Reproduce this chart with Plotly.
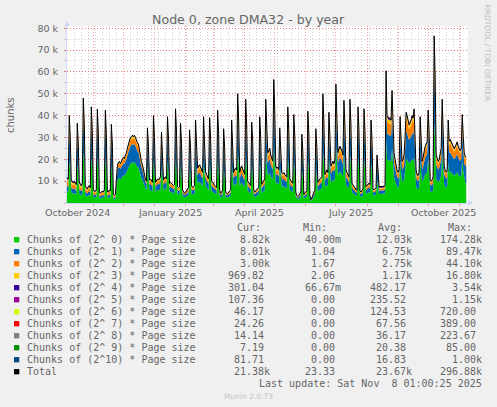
import numpy as np
import pandas as pd
import plotly.graph_objects as go

# one value per day, in thousands of chunks, starting 2024-10-05
days = pd.date_range("2024-10-05", periods=400, freq="D")

order_0 = [
    5.4, 5.2, 5.0, 19.2, 14.4, 4.7, 4.5, 4.3, 4.5, 4.1,
    3.8, 17.5, 13.1, 4.3, 3.8, 3.6, 4.1, 23.0, 17.3, 3.6,
    3.2, 2.9, 3.4, 3.6, 3.2, 21.1, 15.8, 2.7, 2.5, 2.5,
    2.7, 20.6, 15.5, 2.3, 2.0, 2.3, 2.5, 2.3, 2.7, 20.4,
    15.3, 2.5, 2.3, 2.7, 2.5, 17.3, 13.0, 1.8, 1.6, 1.8,
    7.2, 10.2, 11.1, 11.4, 10.8, 11.7, 12.0, 12.6, 12.3, 13.2,
    13.8, 15.0, 16.2, 17.4, 18.0, 18.3, 18.6, 18.3, 18.6, 18.0,
    16.8, 16.5, 16.2, 14.4, 12.6, 11.4, 10.5, 9.0, 7.8, 6.6,
    6.0, 16.6, 12.5, 5.8, 6.0, 5.5, 5.2, 19.2, 14.4, 5.2,
    5.5, 6.0, 5.8, 6.0, 6.6, 15.6, 11.7, 5.8, 6.3, 6.6,
    6.0, 19.0, 14.3, 5.0, 5.2, 5.0, 4.7, 4.4, 4.7, 20.6,
    15.5, 4.1, 3.9, 4.1, 17.5, 13.1, 3.3, 2.8, 2.5, 2.8,
    3.0, 3.3, 3.9, 16.1, 12.1, 4.4, 3.9, 4.1, 4.4, 18.2,
    13.7, 8.8, 9.4, 9.6, 9.1, 8.3, 7.7, 19.0, 14.3, 8.0,
    7.2, 6.6, 6.0, 18.7, 14.0, 5.5, 5.2, 5.0, 4.4, 4.1,
    3.9, 20.4, 15.3, 3.3, 2.5, 2.8, 3.3, 16.3, 12.2, 2.8,
    2.5, 2.5, 2.8, 3.0, 3.3, 18.2, 13.7, 7.7, 8.5, 8.8,
    8.3, 24.0, 18.0, 7.7, 8.8, 9.4, 8.5, 7.7, 7.2, 22.8,
    17.1, 5.5, 5.0, 4.7, 4.4, 17.8, 13.4, 3.3, 2.8, 3.0,
    3.3, 3.6, 3.9, 19.0, 14.3, 4.7, 5.2, 5.5, 6.0, 22.8,
    17.1, 12.7, 13.2, 13.8, 12.1, 11.0, 10.5, 27.1, 20.3, 9.4,
    8.8, 9.1, 8.3, 16.6, 12.5, 7.7, 7.4, 7.7, 7.2, 6.9,
    6.6, 21.1, 15.8, 6.0, 5.5, 5.2, 5.0, 19.4, 14.6, 2.8,
    1.9, 1.6, 1.9, 2.2, 2.8, 15.1, 11.3, 2.2, 2.5, 2.8,
    3.0, 20.2, 15.2, 1.9, 0.8, 1.4, 2.2, 2.8, 3.3, 16.3,
    12.2, 5.2, 5.8, 6.0, 6.3, 6.6, 24.0, 18.0, 7.2, 7.7,
    8.3, 7.7, 19.9, 14.9, 9.4, 9.9, 10.5, 9.9, 11.0, 26.2,
    19.7, 12.7, 13.8, 14.3, 13.8, 13.2, 12.1, 22.6, 17.0, 8.3,
    7.7, 7.2, 6.6, 22.8, 17.1, 5.0, 4.4, 4.1, 3.9, 3.3,
    3.3, 21.1, 15.8, 3.0, 2.8, 3.3, 3.6, 20.6, 15.5, 4.1,
    4.4, 4.7, 5.0, 4.7, 18.2, 13.7, 3.6, 3.3, 3.6, 3.9,
    10.6, 8.0, 4.2, 4.1, 4.2, 4.3, 4.2, 4.3, 4.4, 29.0,
    20.0, 19.5, 19.3, 19.5, 19.0, 24.7, 18.5, 11.5, 10.0, 8.5,
    7.5, 7.0, 7.5, 19.0, 14.3, 9.5, 10.0, 11.0, 15.0, 19.9,
    20.0, 19.0, 18.0, 18.5, 19.0, 20.0, 19.5, 20.6, 15.5, 7.5,
    6.5, 6.3, 7.0, 19.0, 14.3, 9.5, 10.5, 12.0, 13.0, 13.5,
    14.0, 20.4, 15.3, 5.5, 5.0, 5.3, 6.0, 36.7, 27.5, 11.0,
    10.0, 9.5, 10.0, 11.0, 12.5, 22.8, 17.1, 8.5, 7.5, 7.0,
    7.5, 18.2, 13.7, 14.5, 14.0, 13.5, 13.0, 12.5, 13.0, 13.5,
    14.0, 13.0, 12.5, 12.0, 12.5, 19.4, 14.6, 11.5, 9.5, 8.8,
]

order_1 = [
    2.6, 2.5, 2.4, 12.8, 9.6, 2.3, 2.2, 2.1, 2.2, 2.0,
    1.9, 11.7, 8.8, 2.1, 1.9, 1.8, 2.0, 15.4, 11.6, 1.8,
    1.5, 1.4, 1.7, 1.8, 1.5, 14.1, 10.6, 1.3, 1.2, 1.2,
    1.3, 13.8, 10.4, 1.1, 1.0, 1.1, 1.2, 1.1, 1.3, 13.6,
    10.2, 1.2, 1.1, 1.3, 1.2, 11.5, 8.6, 0.9, 0.8, 0.9,
    3.2, 4.6, 5.0, 5.1, 4.9, 5.3, 5.4, 5.7, 5.5, 5.9,
    6.2, 6.8, 7.3, 7.8, 8.1, 8.2, 8.4, 8.2, 8.4, 8.1,
    7.6, 7.4, 7.3, 6.5, 5.7, 5.1, 4.7, 4.1, 3.5, 3.0,
    2.7, 11.0, 8.3, 2.6, 2.8, 2.5, 2.4, 12.8, 9.6, 2.4,
    2.5, 2.8, 2.6, 2.8, 3.0, 10.4, 7.8, 2.6, 2.9, 3.0,
    2.8, 12.6, 9.5, 2.2, 2.4, 2.2, 2.1, 2.0, 2.1, 13.8,
    10.4, 1.9, 1.8, 1.9, 11.7, 8.8, 1.5, 1.2, 1.1, 1.2,
    1.4, 1.5, 1.8, 10.7, 8.0, 2.0, 1.8, 1.9, 2.0, 12.2,
    9.2, 4.0, 4.2, 4.4, 4.1, 3.8, 3.5, 12.6, 9.5, 3.6,
    3.2, 3.0, 2.8, 12.5, 9.4, 2.5, 2.4, 2.2, 2.0, 1.9,
    1.8, 13.6, 10.2, 1.5, 1.1, 1.2, 1.5, 10.9, 8.2, 1.2,
    1.1, 1.1, 1.2, 1.4, 1.5, 12.2, 9.2, 3.5, 3.9, 4.0,
    3.8, 16.0, 12.0, 3.5, 4.0, 4.2, 3.9, 3.5, 3.2, 15.2,
    11.4, 2.5, 2.2, 2.1, 2.0, 11.8, 8.9, 1.5, 1.2, 1.4,
    1.5, 1.6, 1.8, 12.6, 9.5, 2.1, 2.4, 2.5, 2.8, 15.2,
    11.4, 5.7, 6.0, 6.2, 5.5, 5.0, 4.8, 18.1, 13.6, 4.2,
    4.0, 4.1, 3.8, 11.0, 8.3, 3.5, 3.4, 3.5, 3.2, 3.1,
    3.0, 14.1, 10.6, 2.8, 2.5, 2.4, 2.2, 13.0, 9.8, 1.2,
    0.9, 0.8, 0.9, 1.0, 1.2, 10.1, 7.6, 1.0, 1.1, 1.2,
    1.4, 13.4, 10.1, 0.9, 0.4, 0.6, 1.0, 1.2, 1.5, 10.9,
    8.2, 2.4, 2.6, 2.8, 2.9, 3.0, 16.0, 12.0, 3.2, 3.5,
    3.8, 3.5, 13.3, 10.0, 4.2, 4.5, 4.8, 4.5, 5.0, 17.4,
    13.1, 5.7, 6.2, 6.5, 6.2, 6.0, 5.5, 15.0, 11.3, 3.8,
    3.5, 3.2, 3.0, 15.2, 11.4, 2.2, 2.0, 1.9, 1.8, 1.5,
    1.5, 14.1, 10.6, 1.4, 1.2, 1.5, 1.6, 13.8, 10.4, 1.9,
    2.0, 2.1, 2.2, 2.1, 12.2, 9.2, 1.6, 1.5, 1.6, 1.8,
    7.0, 5.3, 1.5, 1.6, 1.5, 1.5, 1.6, 1.5, 2.0, 19.4,
    12.0, 11.7, 11.6, 11.7, 11.4, 16.5, 12.4, 6.9, 6.0, 5.1,
    4.5, 4.2, 4.5, 12.6, 9.5, 5.7, 6.0, 6.6, 9.0, 13.3,
    12.0, 11.4, 10.8, 11.1, 11.4, 12.0, 11.7, 13.8, 10.4, 4.5,
    3.9, 3.8, 4.2, 12.6, 9.5, 5.7, 6.3, 7.2, 7.8, 8.1,
    8.4, 13.6, 10.2, 3.3, 3.0, 3.2, 3.6, 24.5, 18.4, 6.6,
    6.0, 5.7, 6.0, 6.6, 7.5, 15.2, 11.4, 5.1, 4.5, 4.2,
    4.5, 12.2, 9.2, 8.7, 8.4, 8.1, 7.8, 7.5, 7.8, 8.1,
    8.4, 7.8, 7.5, 7.2, 7.5, 13.0, 9.8, 6.9, 7.5, 8.0,
]

order_2 = [
    2.2, 2.1, 2.0, 4.8, 3.6, 1.9, 1.8, 1.7, 1.8, 1.6,
    1.5, 4.4, 3.3, 1.7, 1.5, 1.4, 1.6, 5.8, 4.4, 1.4,
    1.3, 1.2, 1.4, 1.4, 1.3, 5.3, 4.0, 1.1, 1.0, 1.0,
    1.1, 5.2, 3.9, 0.9, 0.8, 0.9, 1.0, 0.9, 1.1, 5.1,
    3.8, 1.0, 0.9, 1.1, 1.0, 4.3, 3.2, 0.7, 0.6, 0.7,
    1.1, 1.5, 1.7, 1.7, 1.6, 1.8, 1.8, 1.9, 1.8, 2.0,
    2.1, 2.3, 2.4, 2.6, 2.7, 2.7, 2.8, 2.7, 2.8, 2.7,
    2.5, 2.5, 2.4, 2.2, 1.9, 1.7, 1.6, 1.4, 1.2, 1.0,
    0.9, 4.1, 3.1, 1.3, 1.3, 1.2, 1.1, 4.8, 3.6, 1.1,
    1.2, 1.3, 1.3, 1.3, 1.4, 3.9, 2.9, 1.3, 1.4, 1.4,
    1.3, 4.7, 3.5, 1.1, 1.1, 1.1, 1.0, 1.0, 1.0, 5.2,
    3.9, 0.9, 0.8, 0.9, 4.4, 3.3, 0.7, 0.6, 0.5, 0.6,
    0.7, 0.7, 0.8, 4.0, 3.0, 1.0, 0.8, 0.9, 1.0, 4.6,
    3.5, 1.9, 2.0, 2.1, 2.0, 1.8, 1.7, 4.7, 3.5, 1.7,
    1.6, 1.4, 1.3, 4.7, 3.5, 1.2, 1.1, 1.1, 1.0, 0.9,
    0.8, 5.1, 3.8, 0.7, 0.5, 0.6, 0.7, 4.1, 3.1, 0.6,
    0.5, 0.5, 0.6, 0.7, 0.7, 4.6, 3.5, 1.7, 1.9, 1.9,
    1.8, 6.0, 4.5, 1.7, 1.9, 2.0, 1.9, 1.7, 1.6, 5.7,
    4.3, 1.2, 1.1, 1.0, 1.0, 4.4, 3.3, 0.7, 0.6, 0.7,
    0.7, 0.8, 0.8, 4.7, 3.5, 1.0, 1.1, 1.2, 1.3, 5.7,
    4.3, 2.8, 2.9, 3.0, 2.6, 2.4, 2.3, 6.8, 5.1, 2.0,
    1.9, 2.0, 1.8, 4.1, 3.1, 1.7, 1.6, 1.7, 1.6, 1.5,
    1.4, 5.3, 4.0, 1.3, 1.2, 1.1, 1.1, 4.9, 3.7, 0.6,
    0.4, 0.4, 0.4, 0.5, 0.6, 3.8, 2.9, 0.5, 0.5, 0.6,
    0.7, 5.0, 3.8, 0.4, 0.2, 0.3, 0.5, 0.6, 0.7, 4.1,
    3.1, 1.1, 1.3, 1.3, 1.4, 1.4, 6.0, 4.5, 1.6, 1.7,
    1.8, 1.7, 5.0, 3.8, 2.0, 2.2, 2.3, 2.2, 2.4, 6.5,
    4.9, 2.8, 3.0, 3.1, 3.0, 2.9, 2.6, 5.6, 4.2, 1.8,
    1.7, 1.6, 1.4, 5.7, 4.3, 1.1, 1.0, 0.9, 0.8, 0.7,
    0.7, 5.3, 4.0, 0.7, 0.6, 0.7, 0.8, 5.2, 3.9, 0.9,
    1.0, 1.0, 1.1, 1.0, 4.6, 3.5, 0.8, 0.7, 0.8, 0.8,
    2.6, 2.0, 0.9, 0.9, 0.9, 0.9, 0.9, 0.9, 1.0, 7.3,
    5.6, 5.5, 5.4, 5.5, 5.3, 6.2, 4.7, 3.2, 2.8, 2.4,
    2.1, 2.0, 2.1, 4.7, 3.5, 2.7, 2.8, 3.1, 4.2, 5.0,
    5.6, 5.3, 5.0, 5.2, 5.3, 5.6, 5.5, 5.2, 3.9, 2.1,
    1.8, 1.8, 2.0, 4.7, 3.5, 2.7, 2.9, 3.4, 3.6, 3.8,
    3.9, 5.1, 3.8, 1.5, 1.4, 1.5, 1.7, 9.2, 6.9, 3.1,
    2.8, 2.7, 2.8, 3.1, 3.5, 5.7, 4.3, 2.4, 2.1, 2.0,
    2.1, 4.6, 3.5, 4.1, 3.9, 3.8, 3.6, 3.5, 3.6, 3.8,
    3.9, 3.6, 3.5, 3.4, 3.5, 4.9, 3.7, 3.2, 3.0, 3.0,
]

order_3 = [
    1.1, 1.0, 1.0, 2.0, 1.5, 0.9, 0.9, 0.9, 0.9, 0.8,
    0.8, 1.8, 1.4, 0.9, 0.8, 0.7, 0.8, 2.4, 1.8, 0.7,
    0.6, 0.6, 0.7, 0.7, 0.6, 2.2, 1.7, 0.5, 0.5, 0.5,
    0.5, 2.2, 1.7, 0.4, 0.4, 0.4, 0.5, 0.4, 0.5, 2.1,
    1.6, 0.5, 0.4, 0.5, 0.5, 1.8, 1.4, 0.4, 0.3, 0.4,
    0.4, 0.5, 0.6, 0.6, 0.5, 0.6, 0.6, 0.6, 0.6, 0.7,
    0.7, 0.8, 0.8, 0.9, 0.9, 0.9, 0.9, 0.9, 0.9, 0.9,
    0.8, 0.8, 0.8, 0.7, 0.6, 0.6, 0.5, 0.5, 0.4, 0.3,
    0.3, 1.7, 1.3, 0.5, 0.6, 0.5, 0.5, 2.0, 1.5, 0.5,
    0.5, 0.6, 0.5, 0.6, 0.6, 1.6, 1.2, 0.5, 0.6, 0.6,
    0.6, 2.0, 1.5, 0.5, 0.5, 0.5, 0.4, 0.4, 0.4, 2.2,
    1.7, 0.4, 0.4, 0.4, 1.8, 1.4, 0.3, 0.3, 0.2, 0.3,
    0.3, 0.3, 0.4, 1.7, 1.3, 0.4, 0.4, 0.4, 0.4, 1.9,
    1.4, 0.8, 0.9, 0.9, 0.8, 0.8, 0.7, 2.0, 1.5, 0.7,
    0.7, 0.6, 0.6, 2.0, 1.5, 0.5, 0.5, 0.5, 0.4, 0.4,
    0.4, 2.1, 1.6, 0.3, 0.2, 0.3, 0.3, 1.7, 1.3, 0.3,
    0.2, 0.2, 0.3, 0.3, 0.3, 1.9, 1.4, 0.7, 0.8, 0.8,
    0.8, 2.5, 1.9, 0.7, 0.8, 0.9, 0.8, 0.7, 0.7, 2.4,
    1.8, 0.5, 0.5, 0.4, 0.4, 1.9, 1.4, 0.3, 0.3, 0.3,
    0.3, 0.3, 0.4, 2.0, 1.5, 0.4, 0.5, 0.5, 0.6, 2.4,
    1.8, 1.2, 1.2, 1.2, 1.1, 1.0, 1.0, 2.8, 2.1, 0.9,
    0.8, 0.8, 0.8, 1.7, 1.3, 0.7, 0.7, 0.7, 0.7, 0.6,
    0.6, 2.2, 1.7, 0.6, 0.5, 0.5, 0.5, 2.0, 1.5, 0.3,
    0.2, 0.1, 0.2, 0.2, 0.3, 1.6, 1.2, 0.2, 0.2, 0.3,
    0.3, 2.1, 1.6, 0.2, 0.1, 0.1, 0.2, 0.3, 0.3, 1.7,
    1.3, 0.5, 0.5, 0.6, 0.6, 0.6, 2.5, 1.9, 0.7, 0.7,
    0.8, 0.7, 2.1, 1.6, 0.9, 0.9, 1.0, 0.9, 1.0, 2.7,
    2.0, 1.2, 1.2, 1.3, 1.2, 1.2, 1.1, 2.4, 1.8, 0.8,
    0.7, 0.7, 0.6, 2.4, 1.8, 0.5, 0.4, 0.4, 0.4, 0.3,
    0.3, 2.2, 1.7, 0.3, 0.3, 0.3, 0.3, 2.2, 1.7, 0.4,
    0.4, 0.4, 0.5, 0.4, 1.9, 1.4, 0.3, 0.3, 0.3, 0.4,
    1.1, 0.8, 0.4, 0.4, 0.4, 0.4, 0.4, 0.4, 0.4, 3.0,
    1.6, 1.6, 1.5, 1.6, 1.5, 2.6, 2.0, 0.9, 0.8, 0.7,
    0.6, 0.6, 0.6, 2.0, 1.5, 0.8, 0.8, 0.9, 1.2, 2.1,
    1.6, 1.5, 1.4, 1.5, 1.5, 1.6, 1.6, 2.2, 1.7, 0.6,
    0.5, 0.5, 0.6, 2.0, 1.5, 0.8, 0.8, 1.0, 1.0, 1.1,
    1.1, 2.1, 1.6, 0.4, 0.4, 0.4, 0.5, 3.8, 2.9, 0.9,
    0.8, 0.8, 0.8, 0.9, 1.0, 2.4, 1.8, 0.7, 0.6, 0.6,
    0.6, 1.9, 1.4, 1.2, 1.1, 1.1, 1.0, 1.0, 1.0, 1.1,
    1.1, 1.0, 1.0, 1.0, 1.0, 2.0, 1.5, 0.9, 0.9, 1.0,
]

order_4 = [
    0.7, 0.7, 0.6, 1.2, 0.9, 0.6, 0.6, 0.6, 0.6, 0.5,
    0.5, 1.1, 0.8, 0.6, 0.5, 0.5, 0.5, 1.4, 1.1, 0.5,
    0.4, 0.4, 0.3, 0.5, 0.4, 1.3, 1.0, 0.4, 0.3, 0.3,
    0.4, 1.2, 0.9, 0.3, 0.3, 0.3, 0.3, 0.3, 0.4, 1.3,
    1.0, 0.3, 0.3, 0.4, 0.3, 1.1, 0.8, 0.2, 0.2, 0.2,
    0.1, 0.2, 0.2, 0.2, 0.2, 0.2, 0.2, 0.2, 0.2, 0.2,
    0.2, 0.3, 0.3, 0.3, 0.3, 0.3, 0.3, 0.3, 0.3, 0.3,
    0.3, 0.3, 0.3, 0.2, 0.2, 0.2, 0.2, 0.1, 0.1, 0.1,
    0.1, 1.0, 0.8, 0.3, 0.3, 0.3, 0.3, 1.2, 0.9, 0.3,
    0.3, 0.3, 0.3, 0.3, 0.4, 1.0, 0.8, 0.3, 0.3, 0.4,
    0.3, 1.2, 0.9, 0.3, 0.3, 0.3, 0.3, 0.2, 0.3, 1.3,
    1.0, 0.2, 0.2, 0.2, 1.1, 0.8, 0.2, 0.1, 0.1, 0.1,
    0.2, 0.2, 0.2, 1.0, 0.8, 0.2, 0.2, 0.2, 0.2, 1.1,
    0.8, 0.5, 0.5, 0.5, 0.5, 0.5, 0.4, 1.2, 0.9, 0.4,
    0.4, 0.4, 0.3, 1.2, 0.9, 0.3, 0.3, 0.3, 0.2, 0.2,
    0.2, 1.3, 1.0, 0.2, 0.1, 0.1, 0.2, 1.0, 0.8, 0.1,
    0.1, 0.1, 0.1, 0.2, 0.2, 1.1, 0.8, 0.4, 0.5, 0.5,
    0.5, 1.5, 1.1, 0.4, 0.5, 0.5, 0.5, 0.4, 0.4, 1.4,
    1.1, 0.3, 0.3, 0.3, 0.2, 1.1, 0.8, 0.2, 0.1, 0.2,
    0.2, 0.2, 0.2, 1.2, 0.9, 0.3, 0.3, 0.3, 0.3, 1.4,
    1.1, 0.7, 0.7, 0.8, 0.7, 0.6, 0.6, 1.7, 1.3, 0.5,
    0.5, 0.5, 0.5, 1.0, 0.8, 0.4, 0.4, 0.4, 0.4, 0.4,
    0.4, 1.3, 1.0, 0.3, 0.3, 0.3, 0.3, 1.2, 0.9, 0.1,
    0.1, 0.1, 0.1, 0.1, 0.1, 0.9, 0.7, 0.1, 0.1, 0.1,
    0.2, 1.3, 1.0, 0.1, 0.0, 0.1, 0.1, 0.1, 0.2, 1.0,
    0.8, 0.3, 0.3, 0.3, 0.3, 0.4, 1.5, 1.1, 0.4, 0.4,
    0.5, 0.4, 1.2, 0.9, 0.5, 0.5, 0.6, 0.5, 0.6, 1.6,
    1.2, 0.7, 0.8, 0.8, 0.8, 0.7, 0.7, 1.4, 1.1, 0.5,
    0.4, 0.4, 0.4, 1.4, 1.1, 0.3, 0.2, 0.2, 0.2, 0.2,
    0.2, 1.3, 1.0, 0.2, 0.1, 0.2, 0.2, 1.3, 1.0, 0.2,
    0.2, 0.3, 0.3, 0.3, 1.1, 0.8, 0.2, 0.2, 0.2, 0.2,
    0.7, 0.5, 0.5, 0.5, 0.5, 0.5, 0.5, 0.5, 0.2, 1.8,
    0.8, 0.8, 0.8, 0.8, 0.8, 1.5, 1.1, 0.5, 0.4, 0.3,
    0.3, 0.3, 0.3, 1.2, 0.9, 0.4, 0.4, 0.4, 0.6, 1.2,
    0.8, 0.8, 0.7, 0.7, 0.8, 0.8, 0.8, 1.3, 1.0, 0.3,
    0.3, 0.3, 0.3, 1.2, 0.9, 0.4, 0.4, 0.5, 0.5, 0.5,
    0.6, 1.3, 1.0, 0.2, 0.2, 0.2, 0.2, 2.3, 1.7, 0.4,
    0.4, 0.4, 0.4, 0.4, 0.5, 1.4, 1.1, 0.3, 0.3, 0.3,
    0.3, 1.1, 0.8, 0.6, 0.6, 0.5, 0.5, 0.5, 0.5, 0.5,
    0.6, 0.5, 0.5, 0.5, 0.5, 1.2, 0.9, 0.5, 0.3, 0.3,
]

labels = [f"Chunks of (2^{i:>2}) * Page size".replace(" ", "\u00a0") for i in range(11)] + ["Total"]
colors = ["#00CC00", "#0066B3", "#FF8000", "#FFCC00", "#330099", "#990099",
          "#CCFF00", "#FF0000", "#808080", "#008F00", "#00487D", "#000000"]
cur_vals = ["8.82k", "8.01k", "3.00k", "969.82", "301.04", "107.36", "46.17",
            "24.26", "14.14", "7.19", "81.71", "21.38k"]
min_vals = ["40.00m", "1.04", "1.67", "2.06", "66.67m", "0.00", "0.00",
            "0.00", "0.00", "0.00", "0.00", "23.33"]
avg_vals = ["12.03k", "6.75k", "2.75k", "1.17k", "482.17", "235.52", "124.53",
            "67.56", "36.17", "20.38", "16.83", "23.67k"]
max_vals = ["174.28k", "89.47k", "44.10k", "16.80k", "3.54k", "1.15k", "720.00",
            "389.00", "223.67", "85.00", "1.00k", "296.88k"]
month_labels = ["October 2024", "January 2025", "April 2025", "July 2025", "October 2025"]
month_label_dates = ["2024-10-16", "2025-01-16", "2025-04-16", "2025-07-16", "2025-10-16"]

stacked = [order_0, order_1, order_2, order_3, order_4]
total = np.sum(np.array(stacked), axis=0)

W, H = 497, 407
L, R, T, B = 67, 468, 26, 203
FONT = "DejaVu Sans"
MONO = "DejaVu Sans Mono"
TXT = "#666666"
MGRID = "rgba(255,0,0,0.38)"
GRID = "rgba(150,150,150,0.45)"
AXIS = "#CFD6F8"


def px_x(px):
    return (px - L) / (R - L)


def px_y(py):
    return (B - py) / (B - T)


fig = go.Figure()
for vals, col in zip(stacked, colors):
    fig.add_trace(go.Scatter(x=days, y=vals, mode="lines", stackgroup="one",
                             line=dict(width=0, color=col), fillcolor=col,
                             hoverinfo="skip"))
fig.add_trace(go.Scatter(x=days, y=total, mode="lines",
                         line=dict(color="#000000", width=1), hoverinfo="skip"))

fig.update_layout(
    width=W, height=H,
    margin=dict(l=L, r=W - R, t=T, b=H - B, pad=0),
    paper_bgcolor="#F0F0F0", plot_bgcolor="#FFFFFF",
    showlegend=False,
)
fig.update_xaxes(
    type="date", range=["2024-10-05 18:00", "2025-11-09 18:00"],
    dtick="M1", tick0="2024-10-01",
    showgrid=True, gridcolor=MGRID, griddash="1px,2px", gridwidth=1,
    ticks="outside", ticklen=2, tickcolor=MGRID, showticklabels=False,
    showline=True, linecolor=AXIS, linewidth=1, zeroline=False,
    minor=dict(dtick=7 * 86400000, tick0="2024-10-13", showgrid=True,
               gridcolor=GRID, griddash="1px,2px", gridwidth=1),
)
fig.update_yaxes(
    range=[0, 81], tickmode="array", tickvals=list(range(10, 90, 10)),
    ticktext=[f"{v} k" for v in range(10, 90, 10)],
    showgrid=True, gridcolor=MGRID, griddash="1px,2px", gridwidth=1,
    ticks="outside", ticklen=2, tickcolor=MGRID, ticklabelstandoff=4,
    tickfont=dict(family=FONT, size=9.5, color=TXT),
    showline=True, linecolor=AXIS, linewidth=1, zeroline=False,
    minor=dict(dtick=5, tick0=0, showgrid=True, gridcolor=GRID,
               griddash="1px,2px", gridwidth=1, ticks="outside", ticklen=2,
               tickcolor=GRID),
)

ann = []
for lab, d in zip(month_labels, month_label_dates):
    ann.append(dict(x=d, xref="x", y=px_y(212), yref="paper", text=lab,
                    showarrow=False, xanchor="center", yanchor="middle",
                    font=dict(family=FONT, size=9.5, color=TXT)))

ann.append(dict(x=px_x(248), y=px_y(19.5), xref="paper", yref="paper",
                text="Node 0, zone DMA32 - by year", showarrow=False,
                xanchor="center", yanchor="middle",
                font=dict(family=FONT, size=12.6, color=TXT)))
ann.append(dict(x=px_x(11), y=px_y(115), xref="paper", yref="paper",
                text="chunks", textangle=-90, showarrow=False,
                xanchor="center", yanchor="middle",
                font=dict(family=FONT, size=10, color=TXT)))
ann.append(dict(x=px_x(487.5), y=px_y(53), xref="paper", yref="paper",
                text="RRDTOOL / TOBI OETIKER", textangle=90, showarrow=False,
                xanchor="center", yanchor="middle",
                font=dict(family=FONT, size=7.5, color="#BDBDBD")))
ann.append(dict(x=px_x(248), y=px_y(396), xref="paper", yref="paper",
                text="Munin 2.0.73", showarrow=False,
                xanchor="center", yanchor="middle",
                font=dict(family=FONT, size=7.5, color="#C4C4C4")))

mono = dict(family=MONO, size=10, color=TXT)
for head, px in zip(["Cur:", "Min:", "Avg:", "Max:"], [235.7, 302.3, 376.7, 446.7]):
    ann.append(dict(x=px_x(px), y=px_y(227.7), xref="paper", yref="paper",
                    text=head, showarrow=False, xanchor="left", yanchor="middle",
                    borderpad=0, font=mono))

edges = [270.7, 341.7, 412.7, 483.3]
shapes = []
for i, lab in enumerate(labels):
    ry = 239.7 + 12 * i
    shapes.append(dict(type="rect", xref="paper", yref="paper",
                       x0=px_x(14), x1=px_x(19.3), y0=px_y(ry + 2.65), y1=px_y(ry - 2.65),
                       fillcolor=colors[i], line=dict(width=0)))
    ann.append(dict(x=px_x(26.3), y=px_y(ry), xref="paper", yref="paper",
                    text=lab, showarrow=False, xanchor="left", yanchor="middle",
                    borderpad=0, font=mono))
    for col_vals, edge in zip([cur_vals, min_vals, avg_vals, max_vals], edges):
        v = col_vals[i]
        x_end = edge if v[-1].isalpha() else edge - 6
        ann.append(dict(x=px_x(x_end), y=px_y(ry), xref="paper", yref="paper",
                        text=v, showarrow=False, xanchor="right", yanchor="middle",
                        borderpad=0, font=mono))

ann.append(dict(x=px_x(483.3), y=px_y(383.7), xref="paper", yref="paper",
                text="Last update: Sat Nov\u00a0\u00a08 01:00:25 2025",
                showarrow=False, xanchor="right", yanchor="middle",
                borderpad=0, font=mono))

# axis arrows
shapes.append(dict(type="path", xref="paper", yref="paper",
                   path=f"M {px_x(64.5)} {px_y(26.5)} L {px_x(67)} {px_y(21)} L {px_x(69.5)} {px_y(26.5)} Z",
                   fillcolor=AXIS, line=dict(width=0)))
shapes.append(dict(type="path", xref="paper", yref="paper",
                   path=f"M {px_x(468)} {px_y(200.5)} L {px_x(473.5)} {px_y(203)} L {px_x(468)} {px_y(205.5)} Z",
                   fillcolor=AXIS, line=dict(width=0)))

fig.update_layout(annotations=ann, shapes=shapes)
# the page's default body margin would shift the figure by 8px
fig.write_html("out.html", config={"displayModeBar": False},
               post_script="document.body.style.margin='0px';document.body.style.overflow='hidden';")
